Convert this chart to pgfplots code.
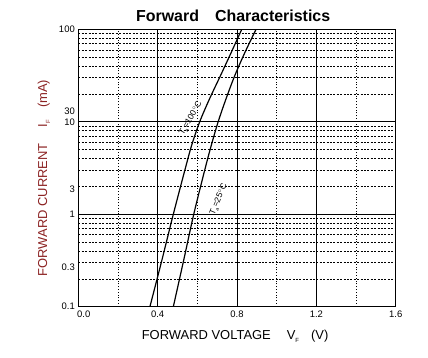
\documentclass[border=0pt]{standalone}
\usepackage{fontspec}
\setmainfont{Liberation Sans}
\usepackage{pgfplots}
\pgfplotsset{compat=1.18}
\definecolor{ylab}{RGB}{140,35,35}
\begin{document}
\begin{tikzpicture}
\path[use as bounding box] (-78.3bp,-51.3bp) rectangle (349.7bp,306.7bp);
\begin{axis}[
  at={(0,0)}, anchor=south west, scale only axis,
  width=317.4bp, height=277.4bp,
  xmin=0, xmax=1.6, ymode=log, ymin=0.1, ymax=100,
  axis line style={line width=1.1bp},
  xtick={0,0.4,0.8,1.2,1.6},
  xticklabels={\hspace{11bp}0.0,0.4,0.8,1.2,1.6},
  minor xtick={0.2,0.6,1.0,1.4},
  ytick={0.1,1,10,100},
  yticklabels={0.1,1,10,100},
  minor ytick={0.2,0.3,0.4,0.5,0.6,0.7,0.8,0.9,2,3,4,5,6,7,8,9,20,30,40,50,60,70,80,90},
  extra y ticks={0.267,1.86,13.1},
  extra y tick labels={0.3,3,30},
  extra y tick style={grid=none},
  grid=both,
  major grid style={black, line width=0.9bp, solid},
  minor x grid style={black, line width=0.65bp, dash pattern=on 1bp off 1.8bp},
  minor y grid style={black, line width=0.6bp, dash pattern=on 2bp off 1.4bp},
  major tick length=0, minor tick length=0,
  tick label style={font=\fontsize{9.5}{11}\selectfont},
  /pgf/number format/assume math mode=true,
  xticklabel style={yshift=-1bp},
  title={\textbf{Forward\hspace{16bp}Characteristics}},
  title style={at={(rel axis cs:0.488,1)}, yshift=8bp, anchor=center, font=\fontsize{16}{18}\selectfont},
  every axis x label/.style={at={(rel axis cs:0.494,0)}, yshift=-29.5bp, anchor=center, font=\fontsize{13}{15}\selectfont},
  every axis y label/.style={at={(rel axis cs:0,0.464)}, xshift=-34.3bp, rotate=90, anchor=center, font=\fontsize{13}{15}\selectfont, text=ylab},
  xlabel={FORWARD VOLTAGE\hspace{16bp}V\raisebox{-3bp}{\fontsize{6}{7}\selectfont F}\hspace{12bp}(V)},
  ylabel={FORWARD CURRENT\hspace{16bp}I\raisebox{-3bp}{\fontsize{6}{7}\selectfont F}\hspace{12bp}(mA)},
]
\addplot[black, line width=1.2bp, smooth] coordinates {
 (0.361,0.1) (0.421,0.3162) (0.479,1) (0.540,3.162) (0.572,5.623) (0.612,10)
 (0.662,17.78) (0.717,31.62) (0.771,56.23) (0.824,100)};
\addplot[black, line width=1.2bp, smooth] coordinates {
 (0.479,0.1) (0.531,0.3162) (0.582,1) (0.640,3.162) (0.671,5.623) (0.705,10)
 (0.745,17.78) (0.789,31.62) (0.840,56.23) (0.896,100)};
\node[rotate=60, font=\fontsize{8.5}{10}\selectfont, inner sep=0pt] at (axis cs:0.568,10.9) {T\raisebox{-2bp}{\fontsize{5}{6}\selectfont a}=100$^\circ$C};
\node[rotate=67, font=\fontsize{8.5}{10}\selectfont, inner sep=0pt] at (axis cs:0.709,1.45) {T\raisebox{-2bp}{\fontsize{5}{6}\selectfont a}=25$^\circ$C};
\end{axis}
\end{tikzpicture}
\end{document}
